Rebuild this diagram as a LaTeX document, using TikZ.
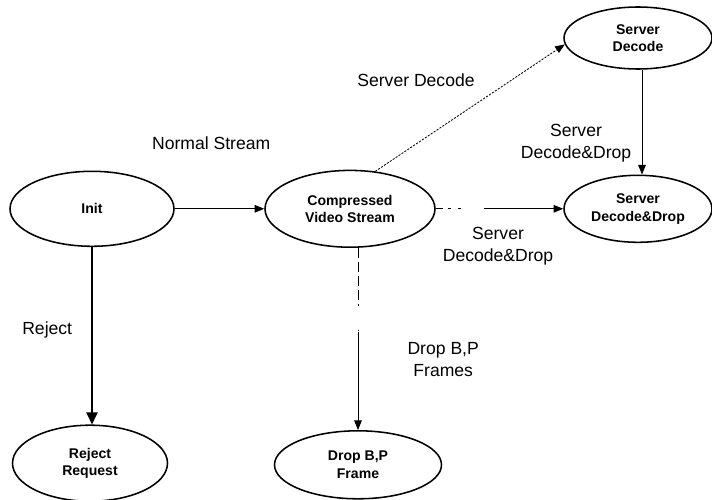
\documentclass[tikz,border=0pt]{standalone}
\usepackage{fontspec}
\setmainfont{Liberation Sans}
\usetikzlibrary{positioning,arrows.meta,shapes.geometric}

\begin{document}
\begin{tikzpicture}[
  state/.style={ellipse, draw, line width=1.1pt, inner sep=0pt, align=center,
                font=\fontsize{10}{12.5}\selectfont\bfseries},
  lbl/.style={align=center, font=\fontsize{12.5}{15.5}\selectfont},
  flow/.style={-{Triangle[length=2.4mm,width=1.9mm]}, line width=0.6pt},
  every node/.style={font=\small}]
\useasboundingbox (0,0) rectangle (17.8,-12.5);

\node[state, minimum width=4.1cm,  minimum height=1.875cm] (init) at (2.30,-5.22) {Init};
\node[state, minimum width=4.25cm, minimum height=1.92cm]  (cvs)  at (8.75,-5.22) {Compressed\\Video Stream};
\node[state, minimum width=3.7cm,  minimum height=1.55cm]  (sd)   at (15.95,-0.95) {Server\\Decode};
\node[state, minimum width=3.7cm,  minimum height=1.675cm] (sdd)  at (15.95,-5.22) {Server\\Decode\&Drop};
\node[state, minimum width=3.875cm,minimum height=1.9cm]   (rr)   at (2.25,-11.58) {Reject\\Request};
\node[state, minimum width=4.175cm,minimum height=1.7cm]   (dbp)  at (8.95,-11.62) {Drop B,P\\Frame};

% transitions
\draw[flow] (init) -- (cvs);
\draw[-{Triangle[length=3mm,width=2.8mm]}, line width=1.2pt] (init.south) -- (init.south |- rr.north);
\draw[flow, dash pattern=on 1.5pt off 1pt] (cvs.56) -- (sd.185);
\draw[flow] ([xshift=1mm]sd.south) -- ([xshift=1mm]sdd.north);
\draw[flow, dash pattern=on 5pt off 4pt on 2pt off 5pt on 2pt off 16pt on 200pt off 1pt] (cvs) -- (sdd);
\draw[flow, dash pattern=on 7pt off 3pt on 7pt off 3pt on 7pt off 3pt on 7pt off 3pt on 1pt off 17pt on 1pt off 1pt on 300pt off 1pt]
  (dbp.north |- cvs.south) -- (dbp.north);

% labels
\node[lbl] (lnormal) at (5.28,-3.57) {Normal Stream};
\node[lbl] (lreject) at (1.18,-8.25) {Reject};
\node[lbl] (lsd)     at (10.4,-2.0) {Server Decode};
\node[lbl] (lsdd1)   at (14.4,-3.57) {Server\\Decode\&Drop};
\node[lbl] (lsdd2)   at (12.45,-6.15) {Server\\Decode\&Drop};
\node[lbl] (ldrop)   at (11.08,-8.98) {Drop B,P\\Frames};
\end{tikzpicture}
\end{document}
